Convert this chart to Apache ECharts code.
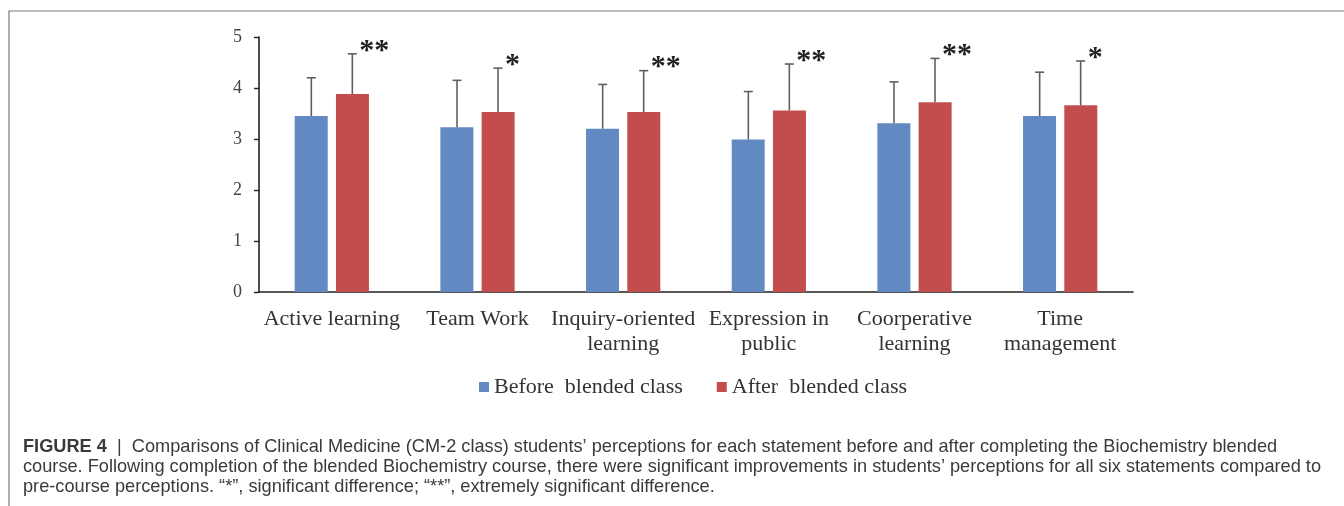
<!DOCTYPE html>
<html>
<head>
<meta charset="utf-8">
<script src="https://cdn.jsdelivr.net/npm/echarts@6/dist/echarts.min.js"></script>
<style>
  html, body { margin: 0; padding: 0; background: #fff; }
  #chart { width: 1344px; height: 506px; }
</style>
</head>
<body>
<div id="chart"></div>
<script>
// statements, means (bar height) and upper end of the SD bars
const categories = ['Active learning', 'Team Work', 'Inquiry-oriented\nlearning',
    'Expression in\npublic', 'Coorperative\nlearning', 'Time\nmanagement'];
const beforeMean = [3.45, 3.23, 3.20, 2.99, 3.31, 3.45];
const beforeTop  = [4.20, 4.15, 4.07, 3.93, 4.12, 4.31];
const afterMean  = [3.88, 3.53, 3.53, 3.56, 3.72, 3.66];
const afterTop   = [4.67, 4.39, 4.34, 4.47, 4.58, 4.53];
const signif     = ['**', '*', '**', '**', '**', '*'];
const yTicks     = [0, 1, 2, 3, 4, 5];

const captionLines = [
    'Comparisons of Clinical Medicine (CM-2 class) students\u2019 perceptions for each statement before and after completing the Biochemistry blended',
    'course. Following completion of the blended Biochemistry course, there were significant improvements in students\u2019 perceptions for all six statements compared to',
    'pre-course perceptions. \u201c*\u201d, significant difference; \u201c**\u201d, extremely significant difference.'
];

const BAR_W = 33;
const HALF_STEP = 20.5;   // centre of each bar from the category centre
const serif = '"Liberation Serif", "Times New Roman", serif';
const sans = '"Liberation Sans", Arial, sans-serif';

// one-sided error bar (upward) drawn above each bar, with optional stars
function errorBar(shift, marks) {
    return function (params, api) {
        const i = api.value(0);
        const base = api.coord([i, api.value(1)]);
        const top = api.coord([i, api.value(2)]);
        const x = base[0] + shift;
        const children = [
            { type: 'line', shape: { x1: x, y1: base[1], x2: x, y2: top[1] },
              style: { stroke: '#5f5f5f', lineWidth: 1.6 } },
            { type: 'line', shape: { x1: x - 4.5, y1: top[1], x2: x + 4.5, y2: top[1] },
              style: { stroke: '#5f5f5f', lineWidth: 1.6 } }
        ];
        if (marks) {
            children.push({
                type: 'text',
                style: {
                    x: x + 7, y: top[1] + 12, text: marks[i],
                    fill: '#222', font: 'bold 30px ' + serif,
                    align: 'left', verticalAlign: 'bottom'
                }
            });
        }
        return { type: 'group', children: children };
    };
}

const chart = echarts.init(document.getElementById('chart'));

const caption = [{
    type: 'text', left: 23, top: 437,
    style: {
        text: '{b|FIGURE 4}  |  ' + captionLines[0] + '\n' + captionLines[1] + '\n' + captionLines[2],
        font: '18.2px ' + sans,
        fill: '#3a3a3a', lineHeight: 20,
        rich: { b: { fontWeight: 'bold', fontSize: 18.2, fontFamily: sans, fill: '#3a3a3a' } }
    }
}];

chart.setOption({
    animation: false,
    grid: { left: 259, right: 211, top: 37, bottom: 214 },
    legend: {
        top: 371, left: 474,
        itemWidth: 10, itemHeight: 10, itemGap: 34,
        icon: 'rect',
        textStyle: { fontFamily: serif, fontSize: 22, color: '#333' },
        data: ['Before  blended class', 'After  blended class']
    },
    graphic: [
        { type: 'polyline', silent: true,
          shape: { points: [[9, 506], [9, 11], [1344, 11]] },
          style: { stroke: '#7a7a7a', lineWidth: 1.2, fill: null } }
    ].concat(caption),
    xAxis: {
        type: 'category',
        data: categories,
        axisLine: { lineStyle: { color: '#222', width: 1.6 } },
        axisTick: { show: false },
        axisLabel: {
            interval: 0, margin: 15, color: '#333',
            fontFamily: serif, fontSize: 22, lineHeight: 25
        }
    },
    yAxis: {
        type: 'value', min: yTicks[0], max: yTicks[yTicks.length - 1], interval: 1,
        splitLine: { show: false },
        axisLine: { show: true, lineStyle: { color: '#222', width: 1.6 } },
        axisTick: { show: true, length: 5, lineStyle: { color: '#222', width: 1.4 } },
        axisLabel: { margin: 17, color: '#444', fontFamily: serif, fontSize: 18 }
    },
    series: [
        {
            name: 'Before  blended class', type: 'bar', data: beforeMean,
            barWidth: BAR_W, barGap: '25%',
            itemStyle: { color: '#6389c2' }
        },
        {
            name: 'After  blended class', type: 'bar', data: afterMean,
            barWidth: BAR_W, barGap: '25%',
            itemStyle: { color: '#c34d4c' }
        },
        {
            type: 'custom', silent: true, z: 5,
            renderItem: errorBar(-HALF_STEP, null),
            data: beforeMean.map((v, i) => [i, v, beforeTop[i]])
        },
        {
            type: 'custom', silent: true, z: 5,
            renderItem: errorBar(HALF_STEP, signif),
            data: afterMean.map((v, i) => [i, v, afterTop[i]])
        }
    ]
});
window.addEventListener('resize', () => chart.resize());
</script>
</body>
</html>
